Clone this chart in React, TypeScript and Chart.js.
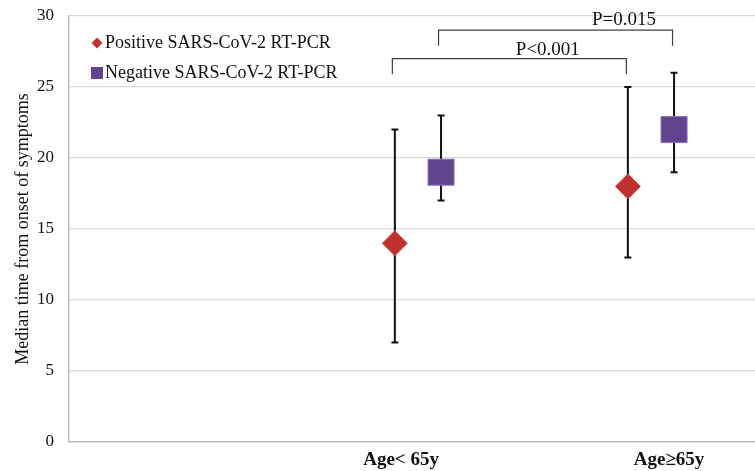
import React, { useEffect, useRef } from 'react';
import { Chart, registerables } from 'chart.js';

Chart.register(...registerables);

// ---- data ----
const categories = ['Age< 65y', 'Age\u226565y'];
const categoryPos = [1.526, 2.545];
const labelPos = [1.452, 2.624];
const seriesOffset = 0.101;

const seriesNames = ['Positive SARS-CoV-2 RT-PCR', 'Negative SARS-CoV-2 RT-PCR'];
const positiveMedian = [14, 18];
const positiveLow = [7, 13];
const positiveHigh = [22, 25];
const negativeMedian = [19, 22];
const negativeLow = [17, 19];
const negativeHigh = [23, 26];

const yMin = 0;
const yMax = 30;
const yStep = 5;
const yTitle = 'Median time from onset of symptoms';

const pLabels = ['P<0.001', 'P=0.015'];
const pSeries = [0, 1];
const pBracketLevel = [27, 29];
const pBracketEnd = [25.9, 27.9];
const pLabelX = [2.094, 2.427];
const pLabelY = [27.6, 29.7];

const RED = '#C0302C';
const RED_BORDER = '#D04A44';
const PURPLE = '#60448E';
const PURPLE_BORDER = '#8A70B8';
const FONT = "'Liberation Serif', 'Times New Roman', serif";

export default function App() {
  const ref = useRef<HTMLCanvasElement | null>(null);

  useEffect(() => {
    document.body.style.margin = '0';
    const canvas = ref.current;
    if (!canvas) return;

    const posData = categoryPos.map((c, i) => ({ x: c - seriesOffset, y: positiveMedian[i] }));
    const negData = categoryPos.map((c, i) => ({ x: c + seriesOffset, y: negativeMedian[i] }));
    const lows = [positiveLow, negativeLow];
    const highs = [positiveHigh, negativeHigh];

    const extras = {
      id: 'extras',
      beforeDatasetsDraw(chart: any) {
        const ctx = chart.ctx;
        const xs = chart.scales.x;
        const ys = chart.scales.y;
        ctx.save();
        ctx.strokeStyle = '#111';
        ctx.lineWidth = 2;
        [posData, negData].forEach((data, s) => {
          data.forEach((p, i) => {
            const px = xs.getPixelForValue(p.x);
            const yl = ys.getPixelForValue(lows[s][i]);
            const yh = ys.getPixelForValue(highs[s][i]);
            ctx.beginPath();
            ctx.moveTo(px, yl);
            ctx.lineTo(px, yh);
            ctx.moveTo(px - 3.5, yl);
            ctx.lineTo(px + 3.5, yl);
            ctx.moveTo(px - 3.5, yh);
            ctx.lineTo(px + 3.5, yh);
            ctx.stroke();
          });
        });
        ctx.restore();
      },
      afterDatasetsDraw(chart: any) {
        const ctx = chart.ctx;
        const xs = chart.scales.x;
        const ys = chart.scales.y;
        const area = chart.chartArea;
        ctx.save();
        // brackets
        ctx.strokeStyle = '#404040';
        ctx.lineWidth = 1.2;
        pLabels.forEach((lab, k) => {
          const data = pSeries[k] === 0 ? posData : negData;
          const x1 = xs.getPixelForValue(data[0].x) - 2.5;
          const x2 = xs.getPixelForValue(data[1].x) - 1.5;
          const yl = ys.getPixelForValue(pBracketLevel[k]);
          const ye = ys.getPixelForValue(pBracketEnd[k]);
          ctx.beginPath();
          ctx.moveTo(x1, ye);
          ctx.lineTo(x1, yl);
          ctx.lineTo(x2, yl);
          ctx.lineTo(x2, ye);
          ctx.stroke();
          ctx.fillStyle = '#111';
          ctx.font = `19px ${FONT}`;
          ctx.textAlign = 'center';
          ctx.textBaseline = 'middle';
          ctx.fillText(lab, xs.getPixelForValue(pLabelX[k]), ys.getPixelForValue(pLabelY[k]));
        });
        // legend
        ctx.font = `18px ${FONT}`;
        ctx.textAlign = 'left';
        ctx.textBaseline = 'middle';
        const lx = area.left + 28;
        const r1 = area.top + 27;
        const r2 = area.top + 57;
        ctx.fillStyle = RED;
        ctx.beginPath();
        ctx.moveTo(lx - 5.5, r1);
        ctx.lineTo(lx, r1 - 5.5);
        ctx.lineTo(lx + 5.5, r1);
        ctx.lineTo(lx, r1 + 5.5);
        ctx.closePath();
        ctx.fill();
        ctx.fillStyle = PURPLE;
        ctx.fillRect(lx - 6, r2 - 6, 12, 12);
        ctx.fillStyle = '#111';
        ctx.fillText(seriesNames[0], lx + 8, r1);
        ctx.fillText(seriesNames[1], lx + 8, r2);
        ctx.restore();
      },
    };

    const chart = new Chart(canvas, {
      type: 'scatter',
      data: {
        datasets: [
          {
            label: seriesNames[0],
            data: posData,
            pointStyle: 'rectRot',
            pointRadius: 12.5,
            pointHoverRadius: 12.5,
            backgroundColor: RED,
            borderColor: RED_BORDER,
            borderWidth: 1,
          },
          {
            label: seriesNames[1],
            data: negData,
            pointStyle: 'rect',
            pointRadius: 18.4,
            pointHoverRadius: 18.4,
            backgroundColor: PURPLE,
            borderColor: PURPLE_BORDER,
            borderWidth: 1,
          },
        ],
      },
      options: {
        responsive: false,
        animation: false,
        layout: { autoPadding: false, padding: { top: 16, right: 0, left: 0, bottom: 0 } },
        plugins: {
          legend: { display: false },
          tooltip: { enabled: false },
        },
        scales: {
          x: {
            type: 'linear',
            min: 0,
            max: 3,
            grid: { display: false, drawTicks: false },
            border: { display: true, color: '#BFBFBF', width: 1.5 },
            afterBuildTicks: (scale: any) => {
              scale.ticks = labelPos.map((v) => ({ value: v }));
            },
            afterFit: (scale: any) => {
              scale.height = 29;
              scale.paddingLeft = 0;
              scale.paddingRight = 0;
            },
            ticks: {
              autoSkip: false,
              maxRotation: 0,
              padding: 7,
              color: '#111',
              font: { family: FONT, size: 19, weight: 'bold' },
              callback: (v: any) => {
                const i = labelPos.indexOf(Number(v));
                return i >= 0 ? categories[i] : '';
              },
            },
          },
          y: {
            type: 'linear',
            min: yMin,
            max: yMax,
            grid: { color: '#D9D9D9', lineWidth: 1.2, drawTicks: false },
            border: { display: true, color: '#BFBFBF', width: 1.5 },
            afterFit: (scale: any) => {
              scale.width = 69;
              scale.paddingTop = 10;
              scale.paddingBottom = 10;
            },
            ticks: {
              stepSize: yStep,
              padding: 15,
              color: '#111',
              font: { family: FONT, size: 17 },
            },
            title: {
              display: true,
              text: yTitle,
              color: '#111',
              font: { family: FONT, size: 18 },
              padding: { top: 12, bottom: 0 },
            },
          },
        },
      },
      plugins: [extras],
    });

    return () => chart.destroy();
  }, []);

  return (
    <div style={{ width: 755, height: 471, background: '#fff' }}>
      <canvas ref={ref} width={755} height={471} style={{ display: 'block' }} />
    </div>
  );
}
